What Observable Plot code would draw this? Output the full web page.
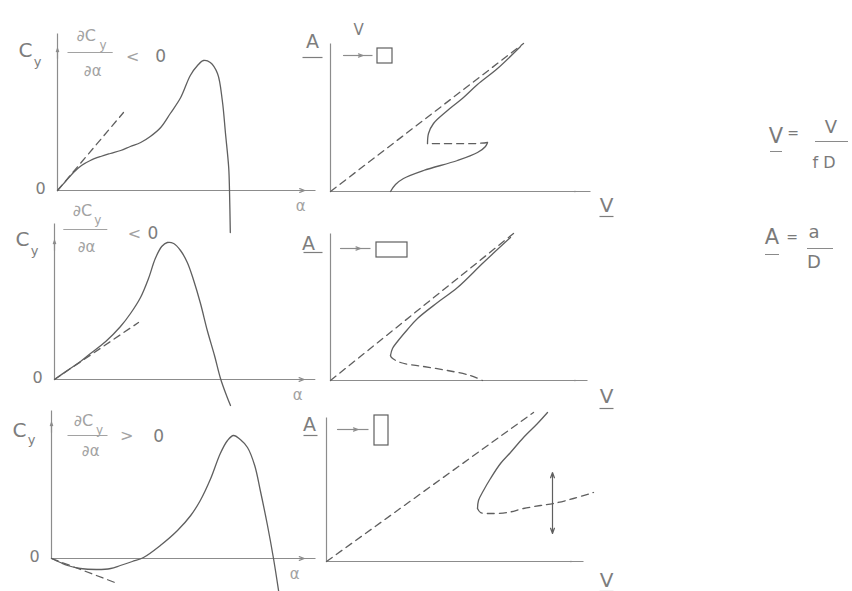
<!DOCTYPE html>
<html>
<head>
<meta charset="utf-8">
<script src="https://cdn.jsdelivr.net/npm/d3@7"></script>
<script src="https://cdn.jsdelivr.net/npm/@observablehq/plot@0.6"></script>
<style>
  html, body { margin: 0; padding: 0; background: #fff; }
  #page { position: relative; width: 852px; height: 591px; overflow: hidden; background: #fff;
          font-family: "DejaVu Sans", sans-serif; color: #7a7a7a; }
  #page svg { position: absolute; left: 0; top: 0; }
  .eq { position: absolute; transform: translate(-50%, -50%); white-space: nowrap; line-height: 1; }
  .bar { position: absolute; height: 0; border-top: 1.3px solid #8a8a8a; }
</style>
</head>
<body>
<div id="page"></div>
<script>
// ---------- Lift coefficient C_y against angle of attack α (degrees) ----------
// square section
const alphaSquare = [0, 1.0, 2.0, 3.0, 4.1, 5.4, 6.6, 7.9, 9.1, 10.4, 11.6, 12.9, 14.1, 15.4, 16.6, 17.5, 18.25, 19.1, 20.0, 20.6, 21.0, 21.4, 21.5, 21.6];
const cySquare    = [0, 0.09, 0.18, 0.25, 0.30, 0.34, 0.37, 0.40, 0.44, 0.48, 0.54, 0.63, 0.77, 0.93, 1.15, 1.25, 1.30, 1.28, 1.17, 0.90, 0.57, 0.23, 0, -0.42];
// wide rectangle (long side along the flow)
const alphaWide = [0, 1.6, 3.25, 4.5, 6.4, 8.25, 9.5, 10.75, 11.75, 12.6, 13.4, 14.1, 14.9, 15.75, 16.6, 17.4, 18.25, 19.1, 20.0, 20.75, 21.5, 22.0];
const cyWide    = [0, 0.09, 0.18, 0.26, 0.38, 0.53, 0.66, 0.82, 1.01, 1.21, 1.33, 1.37, 1.36, 1.29, 1.17, 0.99, 0.76, 0.49, 0.24, 0.01, -0.16, -0.26];
// tall rectangle (long side across the flow)
const alphaTall = [0, 1.1, 2.0, 3.6, 5.75, 7.4, 8.6, 10.1, 11.5, 13.6, 15.75, 17.4, 18.6, 19.9, 21.1, 22.0, 22.75, 23.6, 24.5, 25.4, 26.1, 27.0, 27.75, 28.4];
const cyTall    = [0, -0.04, -0.07, -0.10, -0.11, -0.10, -0.07, -0.03, 0.01, 0.13, 0.28, 0.43, 0.58, 0.80, 1.05, 1.18, 1.23, 1.19, 1.11, 0.93, 0.68, 0.33, 0, -0.33];
// initial slope ∂C_y/∂α at α = 0 (dashed tangents), end point of each
const tangentAlpha = [8.25, 10.5, 8.25];
const tangentCy    = [0.78, 0.57, -0.25];

// ---------- Amplitude A = a/D against reduced velocity V = V/(fD) ----------
// square: stable low branch, unstable middle branch, stable high branch
const vSquareLow  = [3.0, 3.25, 3.65, 4.65, 6.35, 7.35, 7.75, 7.85];
const aSquareLow  = [0, 0.14, 0.26, 0.42, 0.62, 0.78, 0.90, 0.98];
const vSquareMid  = [7.85, 7.3, 4.85];
const aSquareMid  = [0.98, 0.96, 0.96];
const vSquareHigh = [4.85, 4.9, 5.15, 5.85, 6.65, 7.35, 8.35, 9.5];
const aSquareHigh = [0.96, 1.16, 1.36, 1.62, 1.88, 2.14, 2.46, 2.9];
// wide rectangle
const vWideHigh = [3.0, 3.1, 3.35, 3.85, 4.35, 5.35, 6.35, 7.65, 9.0];
const aWideHigh = [0.5, 0.64, 0.78, 1.02, 1.24, 1.56, 1.86, 2.36, 2.86];
const vWideLow  = [3.0, 3.05, 3.5, 4.65, 5.85, 7.0, 7.6];
const aWideLow  = [0.5, 0.46, 0.36, 0.28, 0.2, 0.1, 0];
// tall rectangle
const vTallHigh = [7.55, 7.6, 7.85, 8.2, 8.7, 9.2, 9.85, 10.55, 11.05];
const aTallHigh = [1.06, 1.22, 1.42, 1.66, 1.96, 2.18, 2.48, 2.76, 2.98];
const vTallLow  = [7.55, 7.7, 8.2, 9.05, 9.85, 10.7, 11.35, 12.35, 13.35];
const aTallLow  = [1.06, 0.98, 0.96, 0.98, 1.06, 1.12, 1.16, 1.26, 1.38];
// quasi-steady reference line through the origin, end point of each
const refV = [9.65, 9.15, 10.35];
const refA = [2.96, 2.94, 2.98];
// amplitude jump marker on the tall-section branch
const jumpV = 11.3, jumpA = 1.16, jumpUp = 1.78, jumpDown = 0.56;

// relation of the initial slope to zero, per section
const slopeSign = ["<", "<", ">"];

// ---------- drawing ----------
const INK = "#5f5f5f", AXIS = "#8c8c8c", TEXT = "#7d7d7d", PALE = "#a2a2a2";
const FONT = "DejaVu Sans, sans-serif";
const page = document.getElementById("page");
const pts = (xs, ys) => xs.map((x, i) => ({x, y: ys[i]}));

// each panel is a transparent overlay; one data unit spans kx / ky pixels from the origin
function overlay(frame, marks) {
  const svg = Plot.plot({
    width: 852, height: 591, margin: 0,
    x: {type: "linear", domain: [0, 1], range: [frame.ox, frame.ox + frame.kx], axis: null},
    y: {type: "linear", domain: [0, 1], range: [frame.oy, frame.oy - frame.ky], axis: null},
    style: {background: "transparent", overflow: "visible", fontFamily: FONT},
    marks
  });
  page.append(svg);
}

const seg = (x1, y1, x2, y2, o = {}) =>
  Plot.link([{x1, y1, x2, y2}], {x1: "x1", y1: "y1", x2: "x2", y2: "y2", stroke: AXIS, strokeWidth: 1.2, ...o});
const arrowTo = (x1, y1, x2, y2, o = {}) =>
  Plot.arrow([{x1, y1, x2, y2}], {x1: "x1", y1: "y1", x2: "x2", y2: "y2", stroke: AXIS, strokeWidth: 1.2, headLength: 8, headAngle: 40, ...o});
const label = (x, y, t, size, fill = TEXT, o = {}) =>
  Plot.text([{x, y, t}], {x: "x", y: "y", text: "t", fontSize: size, fill, fontFamily: FONT, ...o});
const curveLine = (data, dashed) =>
  Plot.line(data, {x: "x", y: "y", curve: "catmull-rom", stroke: INK, strokeWidth: 1.3,
                   strokeDasharray: dashed ? "7,5" : null});

function axes(xEnd, xTip, yEnd, yTip, dx) {
  const m = [
    seg(0, 0, xEnd, 0),
    seg(0, 0, 0, yEnd),
    arrowTo(xTip - dx, 0, xTip, 0)
  ];
  if (yTip != null) m.push(arrowTo(0, yTip - 0.1, 0, yTip, {headLength: 7}));
  return m;
}

// left column: C_y(α)
const liftFrames = [
  {ox: 57, oy: 190, kx: 8, ky: 100, xEnd: 32.25, xTip: 30.9, yEnd: 1.57, yTip: 1.42, cy: [1.40, 1.29],
   num: [3.6, 1.55], numSub: [5.7, 1.45], bar: [1.25, 6.9, 1.38], den: [4.4, 1.19], sign: [9.4, 1.34], zero: [12.9, 1.34]},
  {ox: 54, oy: 379, kx: 8, ky: 100, xEnd: 32.6, xTip: 31.2, yEnd: 1.56, yTip: 1.39, cy: [1.40, 1.29],
   num: [3.5, 1.69], numSub: [5.4, 1.59], bar: [1.1, 6.6, 1.50], den: [4.0, 1.32], sign: [10.0, 1.46], zero: [12.3, 1.46]},
  {ox: 51, oy: 558, kx: 8, ky: 100, xEnd: 33.0, xTip: 31.6, yEnd: 1.48, yTip: 1.36, cy: [1.28, 1.19],
   num: [4.0, 1.38], numSub: [6.0, 1.28], bar: [2.0, 7.0, 1.23], den: [4.9, 1.07], sign: [9.4, 1.23], zero: [13.4, 1.22]}
];
const liftCurves = [pts(alphaSquare, cySquare), pts(alphaWide, cyWide), pts(alphaTall, cyTall)];

liftFrames.forEach((f, i) => {
  overlay(f, [
    ...axes(f.xEnd, f.xTip, f.yEnd, f.yTip, 2),
    curveLine([{x: 0, y: 0}, {x: tangentAlpha[i], y: tangentCy[i]}], true),
    curveLine(liftCurves[i], false),
    label(-4.0, f.cy[0], "C", 20),
    label(-2.5, f.cy[1], "y", 13),
    label(f.num[0], f.num[1], "∂C", 16, PALE),
    label(f.numSub[0], f.numSub[1], "y", 12, PALE),
    seg(f.bar[0], f.bar[2], f.bar[1], f.bar[2], {stroke: PALE}),
    label(f.den[0], f.den[1], "∂α", 15, PALE),
    label(f.sign[0], f.sign[1], slopeSign[i], 16, PALE),
    label(f.zero[0], f.zero[1], "0", 17, TEXT),
    label(-2.1, 0.02, "0", 16),
    label(30.4, -0.16, "α", 15, PALE)
  ]);
});

// right column: A(V)
const ampFrames = [
  {ox: 330, oy: 191, kx: 20, ky: 50, xEnd: 13.0, yEnd: 2.96,
   A: [-0.9, 3.0], Abar: [-1.4, -0.4, 2.68], arrow: [0.65, 2.1, 2.72], body: [2.35, 3.1, 2.56, 2.86], V: [13.8, -0.28], Vbar: -0.5},
  {ox: 330, oy: 380, kx: 20, ky: 50, xEnd: 12.85, yEnd: 2.94,
   A: [-1.1, 2.74], Abar: [-1.35, -0.4, 2.56], arrow: [0.5, 2.0, 2.64], body: [2.3, 3.85, 2.46, 2.76], V: [13.8, -0.32], Vbar: -0.56},
  {ox: 326, oy: 561, kx: 20, ky: 50, xEnd: 12.85, yEnd: 2.88,
   A: [-0.85, 2.74], Abar: [-1.15, -0.45, 2.52], arrow: [0.55, 2.1, 2.64], body: [2.4, 3.1, 2.32, 2.92], V: [14.0, -0.38], Vbar: -0.6}
];
const ampSolid = [
  [pts(vSquareLow, aSquareLow), pts(vSquareHigh, aSquareHigh)],
  [pts(vWideHigh, aWideHigh)],
  [pts(vTallHigh, aTallHigh)]
];
const ampDashed = [
  [pts(vSquareMid, aSquareMid)],
  [pts(vWideLow, aWideLow)],
  [pts(vTallLow, aTallLow)]
];

ampFrames.forEach((f, i) => {
  const extra = [];
  if (i === 0) extra.push(label(1.4, 3.22, "V", 15));
  if (i === 2) {
    extra.push(arrowTo(jumpV, jumpA, jumpV, jumpUp, {stroke: INK, headLength: 7}));
    extra.push(arrowTo(jumpV, jumpA, jumpV, jumpDown, {stroke: INK, headLength: 7}));
  }
  overlay(f, [
    ...axes(f.xEnd, 12.25, f.yEnd, null, 0.1),
    curveLine([{x: 0, y: 0}, {x: refV[i], y: refA[i]}], true),
    ...ampSolid[i].map(d => curveLine(d, false)),
    ...ampDashed[i].map(d => curveLine(d, true)),
    label(f.A[0], f.A[1], "A", 19),
    seg(f.Abar[0], f.Abar[2], f.Abar[1], f.Abar[2], {stroke: TEXT}),
    seg(f.arrow[0], f.arrow[2], f.arrow[1], f.arrow[2]),
    arrowTo(f.arrow[0], f.arrow[2], (f.arrow[0] + f.arrow[1]) / 2 + 0.25, f.arrow[2], {headLength: 6}),
    Plot.rect([{x1: f.body[0], x2: f.body[1], y1: f.body[2], y2: f.body[3]}],
              {x1: "x1", x2: "x2", y1: "y1", y2: "y2", fill: "none", stroke: INK, strokeWidth: 1.2}),
    label(f.V[0], f.V[1], "V", 20),
    seg(f.V[0] - 0.35, f.Vbar, f.V[0] + 0.35, f.Vbar, {stroke: TEXT}),
    ...extra
  ]);
});

// definitions of the reduced quantities
const defs = [
  ["V", 776, 136, 21], ["=", 793, 133, 14], ["V", 831, 127, 18], ["f D", 824, 163, 16],
  ["A", 772, 237, 21], ["=", 792, 237, 14], ["a", 814, 232, 18], ["D", 814, 262, 18]
];
defs.forEach(([t, x, y, s]) => {
  const d = document.createElement("div");
  d.className = "eq";
  d.textContent = t;
  d.style.left = x + "px"; d.style.top = y + "px"; d.style.fontSize = s + "px";
  page.append(d);
});
[[770, 782, 151], [815, 848, 141], [765, 779, 254], [807, 833, 248]].forEach(([x1, x2, y]) => {
  const b = document.createElement("div");
  b.className = "bar";
  b.style.left = x1 + "px"; b.style.width = (x2 - x1) + "px"; b.style.top = y + "px";
  page.append(b);
});
</script>
</body>
</html>
